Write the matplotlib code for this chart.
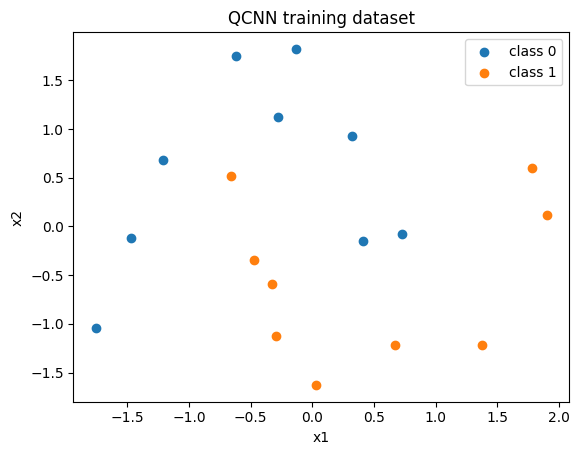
import numpy as np
import matplotlib
matplotlib.use("Agg")
import matplotlib.pyplot as plt

# class 0 points
x1_class0 = [-0.62, -0.133, -0.279, 0.319, -1.211, -1.471, 0.41, 0.727, -1.755]
x2_class0 = [1.749, 1.82, 1.121, 0.926, 0.679, -0.113, -0.154, -0.072, -1.039]

# class 1 points
x1_class1 = [-0.663, 1.781, 1.90, -0.473, -0.324, -0.295, 0.67, 1.376, 0.03]
x2_class1 = [0.517, 0.597, 0.123, -0.34, -0.586, -1.121, -1.211, -1.211, -1.626]

fig = plt.figure(figsize=(5.78, 4.55), dpi=100)
ax = fig.add_axes([0.127, 0.117, 0.858, 0.812])

ax.scatter(x1_class0, x2_class0, label="class 0")
ax.scatter(x1_class1, x2_class1, label="class 1")

ax.set_title("QCNN training dataset")
ax.set_xlabel("x1")
ax.set_ylabel("x2")
ax.legend()

plt.savefig("out.png")
plt.close()
